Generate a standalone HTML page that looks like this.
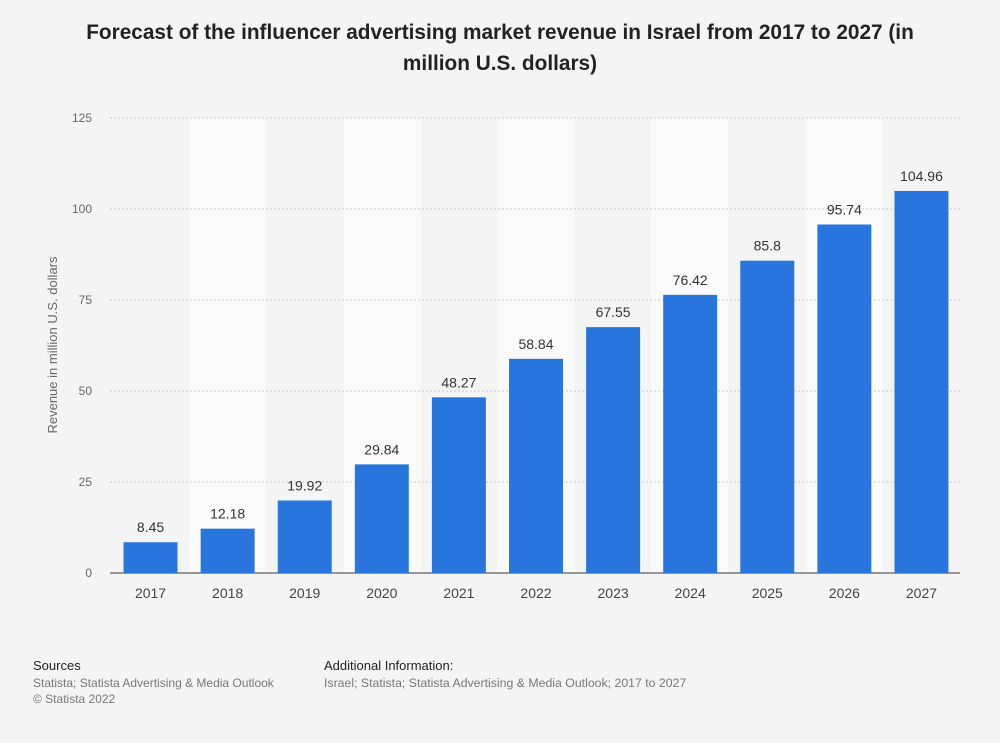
<!DOCTYPE html>
<html><head><meta charset="utf-8"><style>
body{margin:0;background:#f4f4f4;font-family:"Liberation Sans",sans-serif;}
#wrap{position:relative;width:1000px;height:743px;overflow:hidden;}
</style></head><body>
<div id="wrap">
<svg id="chart" width="1000" height="743" xmlns="http://www.w3.org/2000/svg">
<text x="500" y="39" text-anchor="middle" font-size="20.8" font-weight="bold" fill="#222">Forecast of the influencer advertising market revenue in Israel from 2017 to 2027 (in</text>
<text x="500" y="70" text-anchor="middle" font-size="20.8" font-weight="bold" fill="#222">million U.S. dollars)</text>
<g id="bands"></g><g id="grid"></g><g id="bars"></g><g id="labels"></g>
<text transform="translate(57,345) rotate(-90)" text-anchor="middle" font-size="13" fill="#666">Revenue in million U.S. dollars</text>
<text x="33" y="670" font-size="13" fill="#222">Sources</text>
<text x="33" y="687" font-size="12" fill="#777">Statista; Statista Advertising &amp; Media Outlook</text>
<text x="33" y="703" font-size="12" fill="#777">© Statista 2022</text>
<text x="324" y="670" font-size="13" fill="#222">Additional Information:</text>
<text x="324" y="687" font-size="12.3" fill="#777">Israel; Statista; Statista Advertising &amp; Media Outlook; 2017 to 2027</text>
</svg>
</div>
<script>
const categories=["2017","2018","2019","2020","2021","2022","2023","2024","2025","2026","2027"];
const values=[8.45,12.18,19.92,29.84,48.27,58.84,67.55,76.42,85.8,95.74,104.96];
const valueLabels=["8.45","12.18","19.92","29.84","48.27","58.84","67.55","76.42","85.8","95.74","104.96"];
const yTicks=[0,25,50,75,100,125];
const NS="http://www.w3.org/2000/svg";
const L=112,R=960,T=118,B=573,YMAX=125;
const bw=(R-L)/categories.length;
const x=i=>L+bw*i;
const y=v=>B-(v/YMAX)*(B-T);
function mk(tag,attrs,parent,txt){const e=document.createElementNS(NS,tag);for(const k in attrs)e.setAttribute(k,attrs[k]);if(txt!==undefined)e.textContent=txt;document.getElementById(parent).appendChild(e);return e;}
categories.forEach((c,i)=>{if(i%2===1){const r=mk('rect',{x:x(i),y:T,width:bw,height:B-T,fill:'#fafafa'},'bands');

}});
yTicks.forEach(t=>{
const l=mk('line',{x1:L-2,x2:R,y1:y(t),y2:y(t),stroke:t===0?'#333':'#c8c8c8','stroke-width':1,'stroke-dasharray':t===0?'':'2,2'},'grid');


const tx=mk('text',{x:92,y:y(t)+4,'text-anchor':'end','font-size':12,fill:'#666'},'grid',String(t));

});
categories.forEach((c,i)=>{
const cx=x(i)+bw/2,w=bw*0.7;
const r=mk('rect',{x:cx-w/2,y:y(values[i]),width:w,height:B-y(values[i]),fill:'#2876dd'},'bars');


const vl=mk('text',{x:cx,y:y(values[i])-10,'text-anchor':'middle','font-size':14,fill:'#333'},'labels',valueLabels[i]);


const xl=mk('text',{x:cx,y:598,'text-anchor':'middle','font-size':14,fill:'#444'},'labels',c);

});
</script>
</body></html>
